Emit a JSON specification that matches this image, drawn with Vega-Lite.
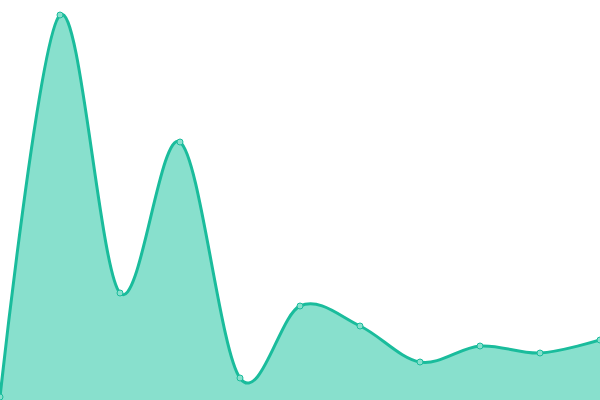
{
  "$schema": "https://vega.github.io/schema/vega-lite/v6.json",
  "autosize": "none",
  "width": 600,
  "height": 400,
  "padding": 0,
  "config": {"view": {"stroke": null}},
  "data": {
    "values": [
      {"i": 0, "v": 3},
      {"i": 1, "v": 385},
      {"i": 2, "v": 107},
      {"i": 3, "v": 258},
      {"i": 4, "v": 22},
      {"i": 5, "v": 94},
      {"i": 6, "v": 74},
      {"i": 7, "v": 38},
      {"i": 8, "v": 54},
      {"i": 9, "v": 47},
      {"i": 10, "v": 60}
    ]
  },
  "encoding": {
    "x": {"field": "i", "type": "quantitative", "scale": {"domain": [0, 10], "nice": false, "zero": false}, "axis": null},
    "y": {"field": "v", "type": "quantitative", "scale": {"domain": [0, 400], "nice": false}, "axis": null}
  },
  "layer": [
    {"mark": {"type": "area", "interpolate": "cardinal", "color": "#88e0cd", "opacity": 1, "clip": true}},
    {"mark": {"type": "line", "interpolate": "cardinal", "color": "#1abc9c", "strokeWidth": 3, "clip": true}},
    {"mark": {"type": "point", "filled": true, "fill": "#88e0cd", "stroke": "#1abc9c", "strokeWidth": 1, "size": 36, "opacity": 1}}
  ]
}
